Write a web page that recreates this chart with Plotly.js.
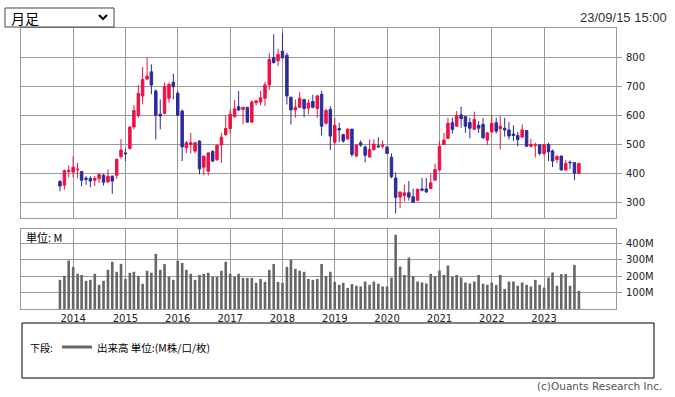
<!DOCTYPE html>
<html>
<head>
<meta charset="utf-8">
<script src="https://cdn.plot.ly/plotly-3.0.1.min.js"></script>
<style>
html,body{margin:0;padding:0;background:#fff;}
#chart{width:675px;height:397px;}
</style>
</head>
<body>
<div id="chart"></div>
<script>
// Monthly bars, Oct 2013 - Sep 2023
const months = [
 "2013-10-01","2013-11-01","2013-12-01",
 "2014-01-01","2014-02-01","2014-03-01","2014-04-01","2014-05-01","2014-06-01","2014-07-01","2014-08-01","2014-09-01","2014-10-01","2014-11-01","2014-12-01",
 "2015-01-01","2015-02-01","2015-03-01","2015-04-01","2015-05-01","2015-06-01","2015-07-01","2015-08-01","2015-09-01","2015-10-01","2015-11-01","2015-12-01",
 "2016-01-01","2016-02-01","2016-03-01","2016-04-01","2016-05-01","2016-06-01","2016-07-01","2016-08-01","2016-09-01","2016-10-01","2016-11-01","2016-12-01",
 "2017-01-01","2017-02-01","2017-03-01","2017-04-01","2017-05-01","2017-06-01","2017-07-01","2017-08-01","2017-09-01","2017-10-01","2017-11-01","2017-12-01",
 "2018-01-01","2018-02-01","2018-03-01","2018-04-01","2018-05-01","2018-06-01","2018-07-01","2018-08-01","2018-09-01","2018-10-01","2018-11-01","2018-12-01",
 "2019-01-01","2019-02-01","2019-03-01","2019-04-01","2019-05-01","2019-06-01","2019-07-01","2019-08-01","2019-09-01","2019-10-01","2019-11-01","2019-12-01",
 "2020-01-01","2020-02-01","2020-03-01","2020-04-01","2020-05-01","2020-06-01","2020-07-01","2020-08-01","2020-09-01","2020-10-01","2020-11-01","2020-12-01",
 "2021-01-01","2021-02-01","2021-03-01","2021-04-01","2021-05-01","2021-06-01","2021-07-01","2021-08-01","2021-09-01","2021-10-01","2021-11-01","2021-12-01",
 "2022-01-01","2022-02-01","2022-03-01","2022-04-01","2022-05-01","2022-06-01","2022-07-01","2022-08-01","2022-09-01","2022-10-01","2022-11-01","2022-12-01",
 "2023-01-01","2023-02-01","2023-03-01","2023-04-01","2023-05-01","2023-06-01","2023-07-01","2023-08-01","2023-09-01"
];

const openP = [
 374,361,408,406,414,408,385,384,378,383,
 395,372,392,395,459,472,487,561,601,668,
 726,751,685,605,608,660,715,677,616,490,
 501,478,513,423,409,477,449,499,535,556,
 597,631,622,629,578,645,647,660,706,800,
 789,822,808,664,620,629,656,626,649,625,
 674,574,622,509,556,535,520,554,461,507,
 492,458,484,496,495,492,457,386,320,325,
 335,321,309,348,348,349,378,413,501,522,
 576,564,603,597,577,553,567,570,516,544,
 576,555,557,551,537,532,526,549,495,497,
 500,470,501,479,449,461,413,440,439,401
];
const highP = [
 378,415,429,460,438,410,392,392,392,401,
 401,415,394,452,520,487,564,636,705,768,
 800,777,691,656,714,714,745,685,622,513,
 541,509,515,463,475,482,501,541,601,622,
 654,685,629,629,653,653,685,716,815,880,
 831,886,817,664,656,682,656,656,672,672,
 685,624,633,593,576,538,556,554,501,515,
 498,518,519,526,515,495,470,405,340,363,
 375,349,349,386,386,400,435,513,541,593,
 593,616,631,597,593,614,582,593,544,601,
 593,599,593,578,567,544,570,550,521,507,
 500,501,507,484,464,463,447,446,440,438
];
const lowP = [
 340,346,388,388,385,357,362,354,358,369,
 360,371,331,382,453,444,484,553,593,639,
 725,674,518,553,605,645,656,599,444,472,
 470,470,398,395,395,440,444,438,530,539,
 593,616,570,576,576,636,636,633,689,780,
 771,797,639,570,593,626,595,605,626,593,
 532,569,482,501,509,507,518,459,459,493,
 440,456,479,490,488,469,385,263,282,306,
 308,302,306,340,334,349,378,412,501,522,
 539,562,559,541,522,553,541,521,499,541,
 539,484,528,518,513,495,526,493,490,456,
 464,463,444,423,438,413,412,417,378,400
];
const closeP = [
 358,411,412,423,416,378,381,375,384,398,
 371,392,375,450,482,469,561,618,677,725,
 736,706,602,599,700,708,700,602,493,507,
 507,507,417,461,472,444,498,526,556,605,
 624,620,629,578,647,651,662,706,794,783,
 811,799,668,620,629,660,625,644,629,668,
 564,618,530,567,551,513,554,467,499,499,
 464,484,502,493,499,470,390,319,337,335,
 320,302,347,344,338,369,415,494,516,574,
 553,601,590,564,557,587,557,524,541,574,
 547,564,551,530,532,518,551,495,501,499,
 470,500,476,444,460,413,436,438,402,436
];
// volume in millions
const volumeM = [
 177,201,295,256,214,207,171,177,214,147,
 171,238,287,226,274,183,220,226,201,153,
 232,220,335,238,274,195,177,293,280,238,
 214,177,207,214,220,195,195,232,287,214,
 195,214,189,189,189,159,183,165,238,274,
 165,159,256,299,244,232,226,183,177,183,
 274,201,226,165,147,159,128,151,141,137,
 167,147,167,153,137,137,191,451,258,207,
 313,201,167,161,155,214,197,234,207,264,
 197,207,191,161,155,167,207,153,147,161,
 147,207,122,167,167,141,161,147,137,177,
 147,130,191,222,141,212,212,141,268,110
];

const yearLabels = ["2014","2015","2016","2017","2018","2019","2020","2021","2022","2023"];
const priceTicks = [300,400,500,600,700,800];
const volumeTicks = [100,200,300,400];
const volumeTickLabels = ["100M","200M","300M","400M"];

// pixel -> paper helpers (plot area: x 21..616, y 28..309)
const L = 21, PW = 595, B = 309, PH = 281;
const px = x => (x - L) / PW;
const py = y => (B - y) / PH;

const RED = '#EE1144', BLUE = '#2B2B9B', GRID = '#9a9a9a';

const traces = [
  {
    type: 'candlestick', x: months, open: openP, high: highP, low: lowP, close: closeP,
    xaxis: 'x', yaxis: 'y',
    increasing: {line: {color: RED, width: 1}, fillcolor: RED},
    decreasing: {line: {color: BLUE, width: 1}, fillcolor: BLUE},
    whiskerwidth: 0, hoverinfo: 'skip'
  },
  {
    type: 'bar', x: months, y: volumeM, xaxis: 'x2', yaxis: 'y2',
    marker: {color: '#666666', line: {width: 0}}, hoverinfo: 'skip'
  }
];

const tickFont = {family: 'DejaVu Sans', size: 10, color: '#222'};
const xr = ['2013-01-02', '2024-05-17'];
const yearVals = yearLabels.map(y => y + '-01-01');

const axBase = {
  showgrid: true, gridcolor: GRID, gridwidth: 1,
  showline: true, linecolor: GRID, linewidth: 1, mirror: true,
  zeroline: false, fixedrange: true
};

const layout = {
  width: 675, height: 397,
  margin: {l: L, r: 675 - L - PW, t: 28, b: 397 - B, pad: 0},
  paper_bgcolor: '#ffffff', plot_bgcolor: '#ffffff',
  showlegend: false,
  bargap: 0.35,
  boxgap: 0.12,
  font: {family: 'DejaVu Sans', size: 10, color: '#222'},
  xaxis: Object.assign({}, axBase, {
    type: 'date', range: xr, domain: [0, 1], anchor: 'y',
    tickvals: yearVals, ticktext: yearLabels, showticklabels: false, ticks: '',
    rangeslider: {visible: false}
  }),
  xaxis2: Object.assign({}, axBase, {
    type: 'date', range: xr, domain: [0, 1], anchor: 'y2',
    tickvals: yearVals, ticktext: yearLabels, showticklabels: true, ticks: '',
    tickfont: tickFont, rangeslider: {visible: false}
  }),
  yaxis: Object.assign({}, axBase, {
    domain: [py(218), 1], range: [248, 902], anchor: 'x', side: 'right',
    tickvals: priceTicks, ticks: 'outside', ticklen: 5, tickcolor: GRID,
    tickfont: tickFont, ticklabelstandoff: 2
  }),
  yaxis2: Object.assign({}, axBase, {
    domain: [0, py(229)], range: [0, 486], anchor: 'x2', side: 'right',
    tickvals: volumeTicks, ticktext: volumeTickLabels, ticks: 'outside', ticklen: 5, tickcolor: GRID,
    tickfont: tickFont, ticklabelstandoff: 2
  }),
  shapes: [
    {type: 'rect', xref: 'paper', yref: 'paper', x0: px(5), x1: px(114), y0: py(27), y1: py(8),
     line: {color: '#444', width: 1}, fillcolor: '#fff'},
    {type: 'path', xref: 'paper', yref: 'paper',
     path: `M ${px(99)},${py(15)} L ${px(103)},${py(19)} L ${px(107)},${py(15)}`,
     line: {color: '#000', width: 2}},
    {type: 'rect', xref: 'paper', yref: 'paper', x0: px(22), x1: px(654), y0: py(378), y1: py(323),
     line: {color: '#000', width: 1}, fillcolor: 'rgba(0,0,0,0)'},
    {type: 'line', xref: 'paper', yref: 'paper', x0: px(62), x1: px(92), y0: py(347), y1: py(347),
     line: {color: '#666', width: 3}}
  ],
  annotations: [
    {text: '月足', xref: 'paper', yref: 'paper', x: px(9), y: py(18), xanchor: 'left', yanchor: 'middle',
     showarrow: false, font: {family: 'Noto Sans CJK JP', size: 14, color: '#000'}},
    {text: '23/09/15 15:00', xref: 'paper', yref: 'paper', x: px(669), y: py(17), xanchor: 'right', yanchor: 'middle',
     showarrow: false, font: {family: 'Liberation Sans', size: 13, color: '#333'}},
    {text: '単位: M', xref: 'paper', yref: 'paper', x: px(24), y: py(237), xanchor: 'left', yanchor: 'middle',
     showarrow: false, font: {family: 'Noto Sans CJK JP', size: 11, color: '#000'}},
    {text: '下段:', xref: 'paper', yref: 'paper', x: px(28), y: py(347), xanchor: 'left', yanchor: 'middle',
     showarrow: false, font: {family: 'Noto Sans CJK JP', size: 10, color: '#000'}},
    {text: '出来高 単位:(M株/口/枚)', xref: 'paper', yref: 'paper', x: px(95), y: py(347), xanchor: 'left', yanchor: 'middle',
     showarrow: false, font: {family: 'Noto Sans CJK JP', size: 10.5, color: '#000'}},
    {text: '(c)Ouants Research Inc.', xref: 'paper', yref: 'paper', x: px(664), y: py(386), xanchor: 'right', yanchor: 'middle',
     showarrow: false, font: {family: 'DejaVu Sans', size: 10.5, color: '#555'}}
  ]
};

Plotly.newPlot('chart', traces, layout, {staticPlot: true, displayModeBar: false});
</script>
</body>
</html>
